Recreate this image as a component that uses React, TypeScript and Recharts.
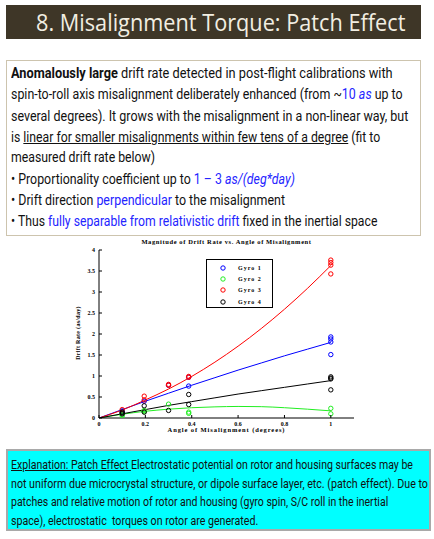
import React, { useLayoutEffect, useRef, useState } from 'react';
import {
  ComposedChart,
  Line,
  Scatter,
  XAxis,
  YAxis,
  Legend,
} from 'recharts';

// fitted curves, every 0.1 degree
const fitX = [0, 0.1, 0.2, 0.3, 0.4, 0.5, 0.6, 0.7, 0.8, 0.9, 1.0];
const fitGyro1 = [0, 0.2, 0.4, 0.59, 0.78, 0.96, 1.14, 1.31, 1.48, 1.64, 1.8];
const fitGyro2 = [0, 0.09, 0.16, 0.21, 0.245, 0.265, 0.275, 0.27, 0.245, 0.21, 0.17];
const fitGyro3 = [0, 0.19, 0.43, 0.69, 0.99, 1.33, 1.71, 2.13, 2.59, 3.09, 3.63];
const fitGyro4 = [0, 0.1, 0.2, 0.3, 0.39, 0.48, 0.57, 0.65, 0.73, 0.81, 0.89];

// measured points
const ptsGyro1X = [0.1, 0.195, 0.3, 0.387, 0.387, 1, 1, 1, 1];
const ptsGyro1Y = [0.17, 0.4, 0.78, 0.76, 0.97, 1.93, 1.88, 1.81, 1.51];
const ptsGyro2X = [0.1, 0.1, 0.195, 0.195, 0.3, 0.387, 0.387, 1, 1];
const ptsGyro2Y = [0.05, 0.08, 0.18, 0.15, 0.33, 0.14, 0.11, 0.23, 0.1];
const ptsGyro3X = [0.1, 0.195, 0.195, 0.3, 0.3, 0.387, 0.387, 1, 1, 1, 1];
const ptsGyro3Y = [0.2, 0.52, 0.43, 0.8, 0.78, 0.99, 0.97, 3.76, 3.7, 3.64, 3.43];
const ptsGyro4X = [0.1, 0.1, 0.1, 0.195, 0.195, 0.3, 0.387, 0.387, 1, 1, 1, 1];
const ptsGyro4Y = [0.14, 0.12, 0.1, 0.29, 0.14, 0.18, 0.56, 0.32, 0.98, 0.95, 0.93, 0.67];

const xTicks = [0, 0.2, 0.4, 0.6, 0.8, 1];
const yTicks = [0, 0.5, 1, 1.5, 2, 2.5, 3, 3.5, 4];

const series = [
  { name: 'Gyro 1', color: '#0000ff', fit: fitGyro1, px: ptsGyro1X, py: ptsGyro1Y },
  { name: 'Gyro 2', color: '#22ee22', fit: fitGyro2, px: ptsGyro2X, py: ptsGyro2Y },
  { name: 'Gyro 3', color: '#ff0000', fit: fitGyro3, px: ptsGyro3X, py: ptsGyro3Y },
  { name: 'Gyro 4', color: '#000000', fit: fitGyro4, px: ptsGyro4X, py: ptsGyro4Y },
];

const serif = "'Liberation Serif', 'Times New Roman', serif";
const sans = "Roboto, 'Noto Sans', sans-serif";
const blue = '#2424ff';

const TICK = 3;

const BottomTick = (p: any) => (
  <g>
    <line x1={p.x} x2={p.x} y1={p.y - 4} y2={p.y - 4 - TICK} stroke="#000" strokeWidth={1} />
    <text x={p.x} y={p.y + 4} textAnchor="middle" fontSize={6} fontWeight="bold" fontFamily={serif} fill="#000">
      {p.payload.value}
    </text>
  </g>
);

const LeftTick = (p: any) => (
  <g>
    <line x1={p.x + 4} x2={p.x + 4 + TICK} y1={p.y} y2={p.y} stroke="#000" strokeWidth={1} />
    <text x={p.x} y={p.y + 2} textAnchor="end" fontSize={6} fontWeight="bold" fontFamily={serif} fill="#000">
      {p.payload.value}
    </text>
  </g>
);

const TopTick = (p: any) => (
  <line x1={p.x} x2={p.x} y1={p.y} y2={p.y + TICK} stroke="#000" strokeWidth={1} />
);

const RightTick = (p: any) => (
  <line x1={p.x} x2={p.x - TICK} y1={p.y} y2={p.y} stroke="#000" strokeWidth={1} />
);

function LegendBox() {
  return (
    <div
      style={{
        width: 65,
        height: 45,
        border: '1.5px solid #000',
        background: '#fff',
        boxSizing: 'content-box',
        paddingTop: 2,
      }}
    >
      {series.map((s) => (
        <div key={s.name} style={{ height: 11.3, display: 'flex', alignItems: 'center' }}>
          <svg width={31} height={8}>
            <circle cx={16} cy={4} r={2.2} fill="none" stroke={s.color} strokeWidth={1} />
          </svg>
          <span
            style={{ fontFamily: serif, fontWeight: 'bold', fontSize: 6, letterSpacing: 1, color: '#000' }}
          >
            {s.name}
          </span>
        </div>
      ))}
    </div>
  );
}

function DriftChart() {
  return (
    <ComposedChart
      width={330}
      height={205}
      margin={{ top: 14, right: 16, bottom: 11, left: 29 }}
    >
      <XAxis
        xAxisId="top"
        orientation="top"
        type="number"
        domain={[0, 1.1]}
        ticks={xTicks}
        interval={0}
        height={0}
        tickSize={0}
        tickMargin={0}
        tick={TopTick}
        stroke="#000"
        allowDataOverflow
      />
      <YAxis
        yAxisId="right"
        orientation="right"
        type="number"
        domain={[0, 4]}
        ticks={yTicks}
        interval={0}
        width={0}
        tickSize={0}
        tickMargin={0}
        tick={RightTick}
        stroke="#000"
        allowDataOverflow
      />
      <XAxis
        dataKey="x"
        type="number"
        domain={[0, 1.1]}
        ticks={xTicks}
        interval={0}
        height={12}
        tickSize={0}
        tickMargin={4}
        tick={BottomTick}
        stroke="#000"
        allowDataOverflow
      />
      <YAxis
        type="number"
        domain={[0, 4]}
        ticks={yTicks}
        interval={0}
        width={30}
        tickSize={0}
        tickMargin={4}
        tick={LeftTick}
        stroke="#000"
        allowDataOverflow
      />
      {series.map((s) => (
        <Line
          key={'fit' + s.name}
          data={fitX.map((x, i) => ({ x, y: s.fit[i] }))}
          dataKey="y"
          type="monotone"
          stroke={s.color}
          strokeWidth={1}
          dot={false}
          legendType="none"
          isAnimationActive={false}
        />
      ))}
      {series.map((s) => (
        <Scatter
          key={'pts' + s.name}
          name={s.name}
          data={s.px.map((x, i) => ({ x, y: s.py[i] }))}
          dataKey="y"
          shape={(p: any) => (
            <circle cx={p.cx} cy={p.cy} r={2.2} fill="none" stroke={s.color} strokeWidth={1} />
          )}
          isAnimationActive={false}
        />
      ))}
      <Legend
        layout="vertical"
        verticalAlign="middle"
        align="center"
        wrapperStyle={{ position: 'absolute', left: 166, top: 23, width: 'auto', height: 'auto' }}
        content={() => <LegendBox />}
      />
    </ComposedChart>
  );
}

// a single text line squeezed horizontally to the width it has in the slide
function Fit({
  left,
  top,
  w,
  size,
  lh,
  font = sans,
  color = '#111',
  children,
}: {
  left: number;
  top: number;
  w: number;
  size: number;
  lh: number;
  font?: string;
  color?: string;
  children: React.ReactNode;
}) {
  const ref = useRef<HTMLDivElement>(null);
  const [k, setK] = useState(1);
  useLayoutEffect(() => {
    if (ref.current) setK(w / ref.current.offsetWidth);
  }, [w]);
  return (
    <div
      ref={ref}
      style={{
        position: 'absolute',
        left,
        top,
        whiteSpace: 'nowrap',
        fontFamily: font,
        fontSize: size,
        lineHeight: lh + 'px',
        color,
        transform: `scaleX(${k})`,
        transformOrigin: 'left top',
      }}
    >
      {children}
    </div>
  );
}

const B = ({ children }: { children: React.ReactNode }) => <span style={{ color: blue }}>{children}</span>;

export default function App() {
  const P = (top: number, w: number, c: React.ReactNode) => (
    <Fit left={11} top={top} w={w} size={14.5} lh={20}>
      {c}
    </Fit>
  );
  const E = (top: number, w: number, c: React.ReactNode) => (
    <Fit left={11} top={top} w={w} size={13} lh={18}>
      {c}
    </Fit>
  );
  return (
    <div style={{ position: 'absolute', left: 0, top: 0, width: 434, height: 539, background: '#fff', overflow: 'hidden' }}>
      {/* title bar */}
      <div
        style={{
          position: 'absolute',
          left: 6,
          top: 5,
          width: 415,
          height: 34,
          background: '#3e3627',
        }}
      />
      <Fit left={36} top={5} w={369} size={23} lh={34} font="'Open Sans', sans-serif" color="#f2eee2">
        8. Misalignment Torque: Patch Effect
      </Fit>

      {/* text box */}
      <div
        style={{
          position: 'absolute',
          left: 6,
          top: 60,
          width: 413,
          height: 174,
          border: '1.5px solid #cdc4ae',
        }}
      />
      {P(64, 382, <><b>Anomalously large</b> drift rate detected in post-flight calibrations with</>)}
      {P(85, 392, <>spin-to-roll axis misalignment deliberately enhanced (from ~<B>10 <i>as</i></B> up to</>)}
      {P(106.5, 397, <>several degrees). It grows with the misalignment in a non-linear way, but</>)}
      {P(127.5, 369, <>is <u>linear for smaller misalignments within few tens of a degree</u> (fit to</>)}
      {P(148, 144, <>measured drift rate below)</>)}
      {P(170, 284, <>• Proportionality coefficient up to <B>1 – 3 <i>as/(deg*day)</i></B></>)}
      {P(191, 274, <>• Drift direction <B>perpendicular</B> to the misalignment</>)}
      {P(212, 366, <>• Thus <B>fully separable from relativistic drift</B> fixed in the inertial space</>)}

      {/* chart */}
      <div style={{ position: 'absolute', left: 40, top: 236 }}>
        <DriftChart />
      </div>
      <div
        style={{
          position: 'absolute',
          left: 0,
          width: 453,
          top: 238,
          textAlign: 'center',
          fontFamily: serif,
          fontWeight: 'bold',
          fontSize: 6.5,
          letterSpacing: 0.6,
          whiteSpace: 'nowrap',
        }}
      >
        Magnitude of Drift Rate vs. Angle of Misalignment
      </div>
      <div
        style={{
          position: 'absolute',
          left: 0,
          width: 453,
          top: 426,
          textAlign: 'center',
          fontFamily: serif,
          fontWeight: 'bold',
          fontSize: 6.5,
          letterSpacing: 0.9,
          whiteSpace: 'nowrap',
        }}
      >
        Angle of Misalignment (degrees)
      </div>
      <div
        style={{
          position: 'absolute',
          left: 78 - 50,
          width: 100,
          top: 330,
          textAlign: 'center',
          transform: 'rotate(-90deg)',
          fontFamily: serif,
          fontWeight: 'bold',
          fontSize: 6,
          letterSpacing: 0.3,
          whiteSpace: 'nowrap',
        }}
      >
        Drift Rate (as/day)
      </div>

      {/* explanation box */}
      <div
        style={{
          position: 'absolute',
          left: 6,
          top: 449,
          width: 421,
          height: 78,
          background: '#00ffff',
          border: '2px solid #a9a9a9',
        }}
      />
      {E(456, 402, <><u>Explanation: Patch Effect </u>Electrostatic potential on rotor and housing surfaces may be</>)}
      {E(474.5, 417, <>not uniform due microcrystal structure, or dipole surface layer, etc. (patch effect). Due to</>)}
      {E(493, 377, <>patches and relative motion of rotor and housing (gyro spin, S/C roll in the inertial</>)}
      {E(511.5, 247, <>space), electrostatic&nbsp; torques on rotor are generated.</>)}
    </div>
  );
}
